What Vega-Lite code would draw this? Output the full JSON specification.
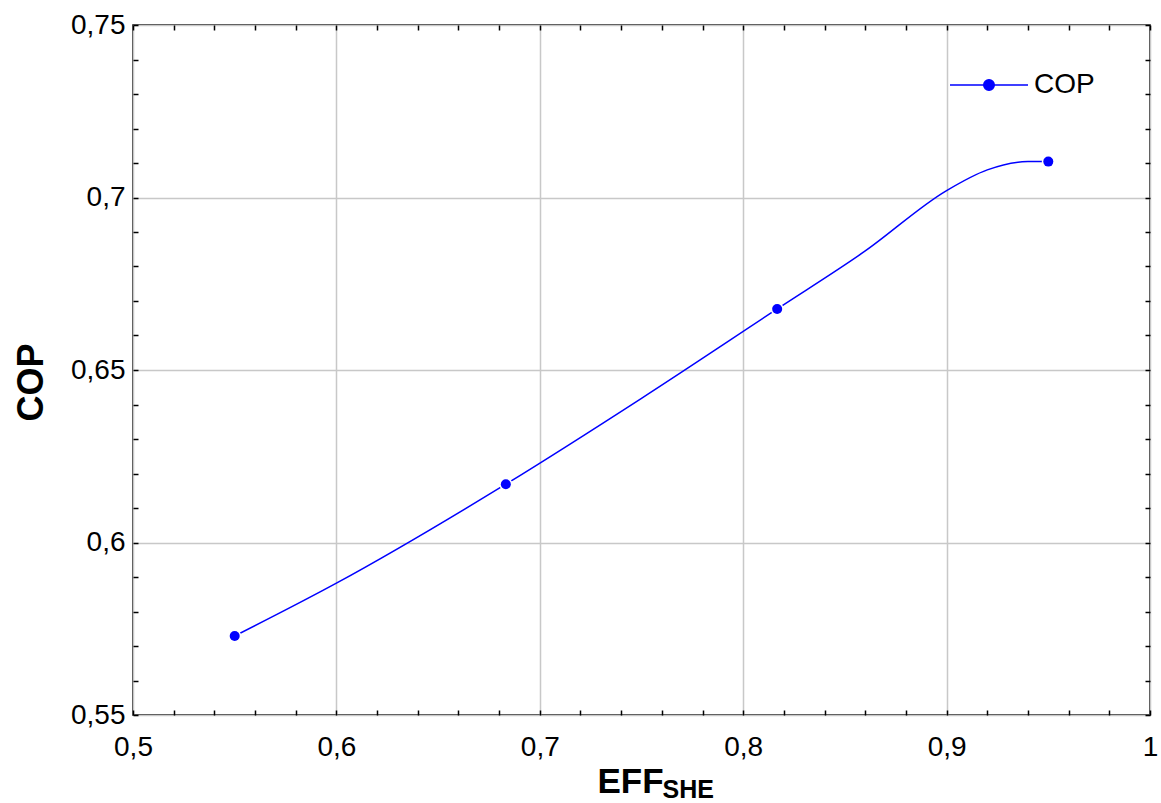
{
  "$schema": "https://vega.github.io/schema/vega-lite/v6.json",
  "width": 1017,
  "height": 690,
  "autosize": "none",
  "padding": {"left": 133, "top": 25, "right": 11, "bottom": 88},
  "background": "white",
  "config": {
    "font": "Liberation Sans",
    "view": {"stroke": "#000000", "strokeWidth": 1.5},
    "axis": {
      "domain": false,
      "tickColor": "#000000",
      "tickWidth": 1.5,
      "tickSize": -5,
      "labelFont": "Liberation Sans",
      "labelFontSize": 28,
      "labelColor": "#000000",
      "labelOverlap": false,
      "labelFlush": false,
      "titleFont": "Liberation Sans",
      "titleFontWeight": "bold",
      "titleColor": "#000000",
      "gridColor": "#c8c8c8",
      "gridWidth": 1.5
    }
  },
  "datasets": {
    "curve": [
      {"eff": 0.55, "cop": 0.5729},
      {"eff": 0.6, "cop": 0.5882},
      {"eff": 0.6833, "cop": 0.6169},
      {"eff": 0.75, "cop": 0.6418},
      {"eff": 0.8167, "cop": 0.6677},
      {"eff": 0.86, "cop": 0.6845},
      {"eff": 0.9, "cop": 0.702},
      {"eff": 0.92, "cop": 0.708},
      {"eff": 0.94, "cop": 0.7104},
      {"eff": 0.95, "cop": 0.7104}
    ],
    "points": [
      {"eff": 0.55, "cop": 0.5729, "series": "COP"},
      {"eff": 0.6833, "cop": 0.6169, "series": "COP"},
      {"eff": 0.8167, "cop": 0.6677, "series": "COP"},
      {"eff": 0.95, "cop": 0.7104, "series": "COP"}
    ]
  },
  "layer": [
    {
      "data": {"name": "curve"},
      "mark": {"type": "line", "interpolate": "monotone", "color": "#0000ff", "strokeWidth": 1.5},
      "encoding": {
        "x": {
          "field": "eff", "type": "quantitative",
          "scale": {"domain": [0.5, 1], "nice": false, "zero": false},
          "axis": {
            "orient": "bottom",
            "values": [0.5, 0.52, 0.54, 0.56, 0.58, 0.6, 0.62, 0.64, 0.66, 0.68, 0.7, 0.72, 0.74, 0.76, 0.78, 0.8, 0.82, 0.84, 0.86, 0.88, 0.9, 0.92, 0.94, 0.96, 0.98, 1.0],
            "labelExpr": "abs(datum.value*10 - round(datum.value*10)) < 0.001 ? replace(toString(datum.value), '.', ',') : ''",
            "labelPadding": 23,
            "grid": true,
            "gridOpacity": {"condition": {"test": "abs(datum.value*10 - round(datum.value*10)) < 0.001", "value": 1}, "value": 0},
            "title": "EFF",
            "titleFontSize": 35,
            "titleX": 464,
            "titleY": 77,
            "titleAlign": "left",
            "titleBaseline": "alphabetic"
          }
        },
        "y": {
          "field": "cop", "type": "quantitative",
          "scale": {"domain": [0.55, 0.75], "nice": false, "zero": false},
          "axis": {
            "orient": "left",
            "values": [0.55, 0.56, 0.57, 0.58, 0.59, 0.6, 0.61, 0.62, 0.63, 0.64, 0.65, 0.66, 0.67, 0.68, 0.69, 0.7, 0.71, 0.72, 0.73, 0.74, 0.75],
            "labelExpr": "abs(datum.value*20 - round(datum.value*20)) < 0.001 ? replace(toString(datum.value), '.', ',') : ''",
            "labelPadding": 13,
            "grid": true,
            "gridOpacity": {"condition": {"test": "abs(datum.value*20 - round(datum.value*20)) < 0.001", "value": 1}, "value": 0},
            "title": "COP",
            "titleFontSize": 36,
            "titleAngle": 270,
            "titleX": -91,
            "titleY": 357,
            "titleAlign": "center",
            "titleBaseline": "alphabetic"
          }
        }
      }
    },
    {
      "data": {"name": "points"},
      "mark": {"type": "point", "filled": true, "shape": "circle", "size": 170, "color": "white", "opacity": 1},
      "encoding": {
        "x": {
          "field": "eff", "type": "quantitative",
          "scale": {"domain": [0.5, 1], "nice": false, "zero": false},
          "axis": {
            "orient": "top",
            "values": [0.5, 0.52, 0.54, 0.56, 0.58, 0.6, 0.62, 0.64, 0.66, 0.68, 0.7, 0.72, 0.74, 0.76, 0.78, 0.8, 0.82, 0.84, 0.86, 0.88, 0.9, 0.92, 0.94, 0.96, 0.98, 1.0],
            "labels": false,
            "grid": false,
            "title": "SHE",
            "titleFontSize": 25,
            "titleX": 529,
            "titleY": 772,
            "titleAlign": "left",
            "titleBaseline": "alphabetic"
          }
        },
        "y": {
          "field": "cop", "type": "quantitative",
          "scale": {"domain": [0.55, 0.75], "nice": false, "zero": false},
          "axis": {
            "orient": "right",
            "values": [0.55, 0.56, 0.57, 0.58, 0.59, 0.6, 0.61, 0.62, 0.63, 0.64, 0.65, 0.66, 0.67, 0.68, 0.69, 0.7, 0.71, 0.72, 0.73, 0.74, 0.75],
            "labels": false,
            "grid": false,
            "title": null
          }
        }
      }
    },
    {
      "data": {"name": "points"},
      "mark": {"type": "point", "filled": true, "shape": "circle", "size": 100, "opacity": 1},
      "encoding": {
        "x": {"field": "eff", "type": "quantitative", "axis": null},
        "y": {"field": "cop", "type": "quantitative", "axis": null},
        "color": {
          "field": "series", "type": "nominal",
          "scale": {"range": ["#0000ff"]},
          "legend": {
            "orient": "none",
            "legendX": 816,
            "legendY": 20,
            "title": null,
            "padding": 0,
            "symbolType": "M-1,0L1,0M0.135,0A0.135,0.135,0,1,1,-0.135,0A0.135,0.135,0,1,1,0.135,0Z",
            "symbolSize": 6084,
            "symbolStrokeColor": "#0000ff",
            "symbolFillColor": "#0000ff",
            "symbolStrokeWidth": 1.5,
            "symbolOpacity": 1,
            "labelFont": "Liberation Sans",
            "labelFontSize": 28,
            "labelColor": "#000000",
            "labelOffset": 5
          }
        }
      }
    }
  ],
  "resolve": {"axis": {"x": "independent", "y": "independent"}}
}
